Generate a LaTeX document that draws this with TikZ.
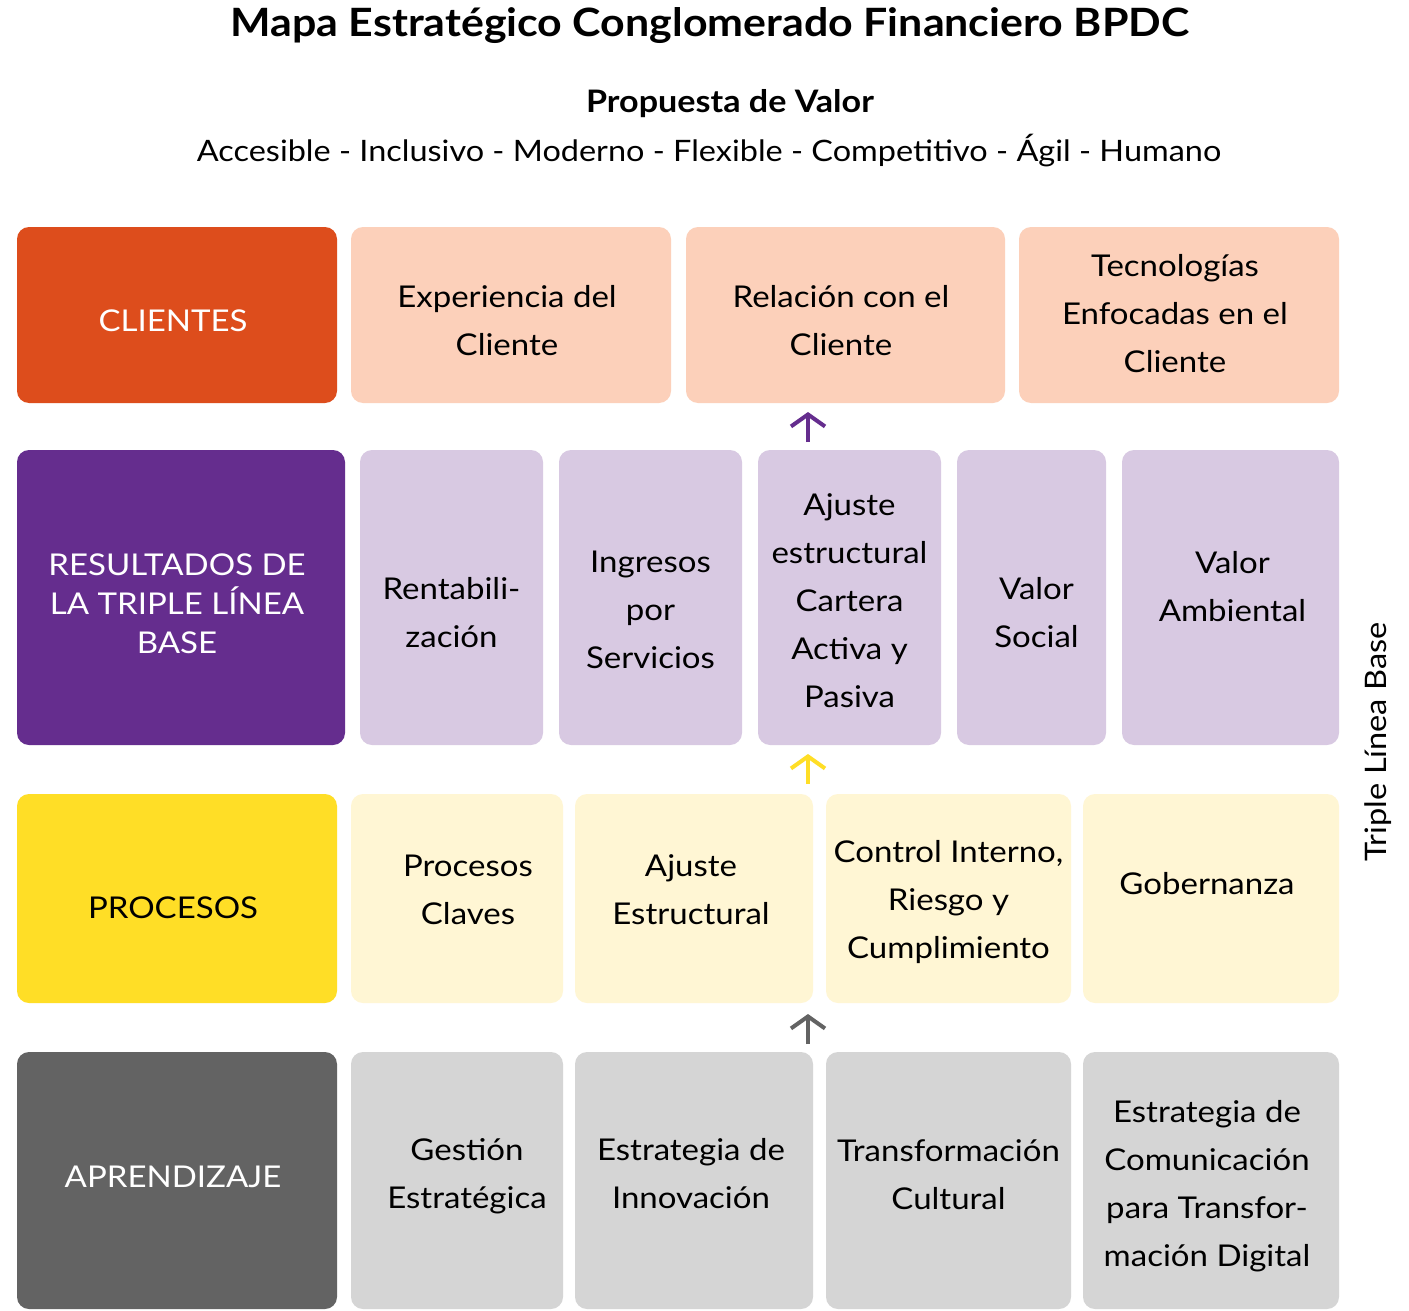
\documentclass[tikz,border=0pt]{standalone}
\usepackage{fontspec}
\setmainfont{Lato}[FakeStretch=1.1]
\usetikzlibrary{arrows.meta}
\definecolor{cliDark}{HTML}{DD4D1C}
\definecolor{cliLight}{HTML}{FCD0BA}
\definecolor{resDark}{HTML}{652D8E}
\definecolor{resLight}{HTML}{D8C9E2}
\definecolor{proDark}{HTML}{FFDE26}
\definecolor{proLight}{HTML}{FFF6D4}
\definecolor{aprDark}{HTML}{636363}
\definecolor{aprLight}{HTML}{D5D5D5}
\tikzset{
  cell/.style={rounded corners=12pt, inner sep=0pt},
  txt/.style={inner sep=0pt, align=center, font=\fontsize{30}{48}\selectfont},
  headtxt/.style={txt, text=white},
  uparrow/.style={line width=4pt, -{Straight Barb[length=12pt,width=34pt,line width=4pt]}},
}
\begin{document}
\begin{tikzpicture}[x=1pt,y=-1pt]
\useasboundingbox[fill=white] (0,0) rectangle (1409,1311);

% titles
\node (title) at (710,26) {\fontsize{39}{40}\selectfont\bfseries Mapa Estratégico Conglomerado Financiero BPDC};
\node (prop) at (730,104) {\fontsize{31}{32}\selectfont\bfseries Propuesta de Valor};
\node (vals) at (709,151) {\fontsize{29.5}{32}\selectfont Accesible - Inclusivo - Moderno - Flexible - Competitivo - Ágil - Humano};

% row 1: clientes
\node[cell, fill=cliDark, minimum width=320pt, minimum height=176pt] (cli) at (177,315) {};
\node[cell, fill=cliLight, minimum width=320pt, minimum height=176pt] (exp) at (511,315) {};
\node[cell, fill=cliLight, minimum width=319pt, minimum height=176pt] (rel) at (845.5,315) {};
\node[cell, fill=cliLight, minimum width=320pt, minimum height=176pt] (tec) at (1179,315) {};
\node[headtxt] (cliT) at ([shift={(-4,6)}]cli.center) {CLIENTES};
\node[txt] (expT) at ([shift={(-4,6)}]exp.center) {Experiencia del\\Cliente};
\node[txt] (relT) at ([shift={(-4.5,6)}]rel.center) {Relación con el\\Cliente};
\node[txt] (tecT) at ([shift={(-4,-1)}]tec.center) {Tecnologías\\Enfocadas en el\\Cliente};

% row 2: resultados de la triple linea base
\node[cell, fill=resDark, minimum width=328pt, minimum height=295pt] (res) at (181,597.5) {};
\node[cell, fill=resLight, minimum width=183pt, minimum height=295pt] (ren) at (451.5,597.5) {};
\node[cell, fill=resLight, minimum width=183pt, minimum height=295pt] (ing) at (650.5,597.5) {};
\node[cell, fill=resLight, minimum width=183pt, minimum height=295pt] (aju) at (849.5,597.5) {};
\node[cell, fill=resLight, minimum width=149pt, minimum height=295pt] (soc) at (1031.5,597.5) {};
\node[cell, fill=resLight, minimum width=217pt, minimum height=295pt] (amb) at (1230.5,597.5) {};
\node[headtxt, font=\fontsize{30}{39}\selectfont] (resT) at ([shift={(-4,6)}]res.center) {RESULTADOS DE\\LA TRIPLE LÍNEA\\BASE};
\node[txt] (renT) at ([shift={(0,15)}]ren.center) {Rentabili-\\zación};
\node[txt] (ingT) at ([shift={(0,12)}]ing.center) {Ingresos\\por\\Servicios};
\node[txt] (ajuT) at ([shift={(0,3)}]aju.center) {Ajuste\\estructural\\Cartera\\Activa y\\Pasiva};
\node[txt] (socT) at ([shift={(5,15)}]soc.center) {Valor\\Social};
\node[txt] (ambT) at ([shift={(2,-11)}]amb.center) {Valor\\Ambiental};

% row 3: procesos
\node[cell, fill=proDark, minimum width=320pt, minimum height=209pt] (pro) at (177,898.5) {};
\node[cell, fill=proLight, minimum width=212pt, minimum height=209pt] (pcl) at (457,898.5) {};
\node[cell, fill=proLight, minimum width=238pt, minimum height=209pt] (aje) at (694,898.5) {};
\node[cell, fill=proLight, minimum width=245pt, minimum height=209pt] (cin) at (948.5,898.5) {};
\node[cell, fill=proLight, minimum width=256pt, minimum height=209pt] (gob) at (1211,898.5) {};
\node[txt] (proT) at ([shift={(-4,9)}]pro.center) {PROCESOS};
\node[txt] (pclT) at ([shift={(11,-9)}]pcl.center) {Procesos\\Claves};
\node[txt] (ajeT) at ([shift={(-3,-9)}]aje.center) {Ajuste\\Estructural};
\node[txt] (cinT) at ([shift={(0,4)}]cin.center) {Control Interno,\\Riesgo y\\Cumplimiento};
\node[txt] (gobT) at ([shift={(-4,-15)}]gob.center) {Gobernanza};

% row 4: aprendizaje
\node[cell, fill=aprDark, minimum width=320pt, minimum height=257pt] (apr) at (177,1180.5) {};
\node[cell, fill=aprLight, minimum width=212pt, minimum height=257pt] (ges) at (457,1180.5) {};
\node[cell, fill=aprLight, minimum width=238pt, minimum height=257pt] (inn) at (694,1180.5) {};
\node[cell, fill=aprLight, minimum width=245pt, minimum height=257pt] (tcu) at (948.5,1180.5) {};
\node[cell, fill=aprLight, minimum width=256pt, minimum height=257pt] (com) at (1211,1180.5) {};
\node[headtxt] (aprT) at ([shift={(-4,-4)}]apr.center) {APRENDIZAJE};
\node[txt] (gesT) at ([shift={(10,-4)}]ges.center) {Gestión\\Estratégica};
\node[txt] (innT) at ([shift={(-3,-7)}]inn.center) {Estrategia de\\Innovación};
\node[txt] (tcuT) at ([shift={(0,-6)}]tcu.center) {Transformación\\Cultural};
\node[txt] (comT) at ([shift={(-4,6)}]com.center) {Estrategia de\\Comunicación\\para Transfor-\\mación Digital};

% side label
\node[rotate=90, font=\fontsize{29.6}{30}\selectfont] (tlb) at (1378,742) {Triple Línea Base};

% arrows between perspectives
\coordinate (a1s) at (808,442);
\coordinate (a1e) at (808,412);
\coordinate (a2s) at (808,784);
\coordinate (a2e) at (808,754);
\coordinate (a3s) at (808,1044);
\coordinate (a3e) at (808,1014);
\draw[uparrow, resDark] (a1s) -- (a1e);
\draw[uparrow, proDark] (a2s) -- (a2e);
\draw[uparrow, aprDark] (a3s) -- (a3e);
\end{tikzpicture}
\end{document}
